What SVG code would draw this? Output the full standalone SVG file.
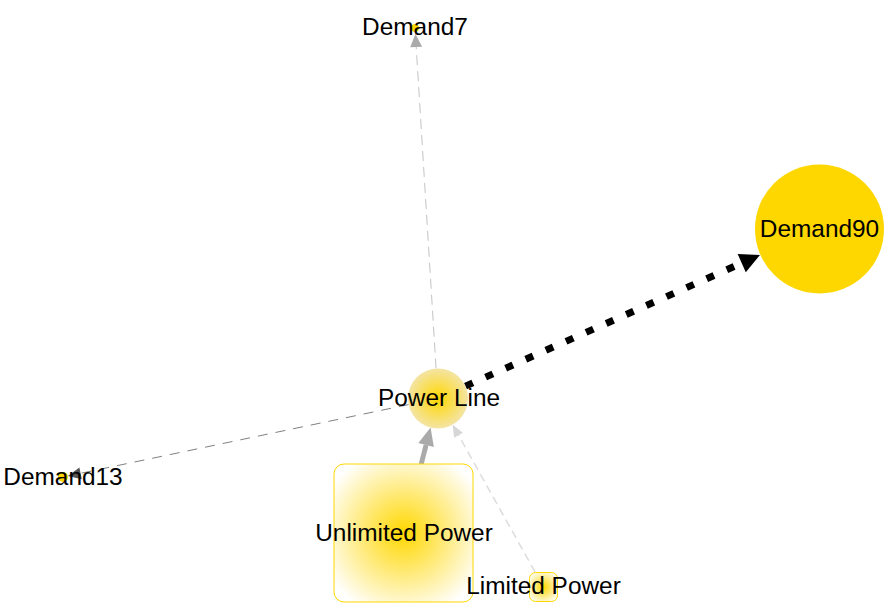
<svg xmlns="http://www.w3.org/2000/svg" width="895" height="615" viewBox="0 0 895 615">
<style>
  text { font-family: "Liberation Sans", Arial, sans-serif; font-size: 24.4px; fill: #000; text-anchor: middle; }
  .e { fill: none; stroke-linecap: butt; }
</style>
<defs>
  <radialGradient id="gPL" cx="0.5" cy="0.5" r="0.5">
    <stop offset="0" stop-color="#ffd700"/>
    <stop offset="1" stop-color="#f4e4a4"/>
  </radialGradient>
  <radialGradient id="gBox" cx="0.5" cy="0.5" r="0.62">
    <stop offset="0" stop-color="#ffd700"/>
    <stop offset="1" stop-color="#ffffff"/>
  </radialGradient>
  <marker id="mBlack" markerUnits="userSpaceOnUse" markerWidth="22" markerHeight="22" refX="0" refY="11" orient="auto" overflow="visible">
    <path d="M0,1 L20,11 L0,21 Z" fill="#000"/>
  </marker>
  <marker id="mGrayBig" markerUnits="userSpaceOnUse" markerWidth="20" markerHeight="18" refX="0" refY="9" orient="auto" overflow="visible">
    <path d="M0,1 L18,9 L0,17 Z" fill="#aaa"/>
  </marker>
  <marker id="mLight" markerUnits="userSpaceOnUse" markerWidth="14" markerHeight="12" refX="0" refY="6" orient="auto" overflow="visible">
    <path d="M0,1 L12,6 L0,11 Z" fill="#d6d6d6"/>
  </marker>
  <marker id="mMid" markerUnits="userSpaceOnUse" markerWidth="14" markerHeight="14" refX="0" refY="7" orient="auto" overflow="visible">
    <path d="M0,1 L13,7 L0,13 Z" fill="#aaa"/>
  </marker>
  <marker id="mDark" markerUnits="userSpaceOnUse" markerWidth="14" markerHeight="14" refX="0" refY="7" orient="auto" overflow="visible">
    <path d="M0,1 L13,7 L0,13 Z" fill="#555"/>
  </marker>
</defs>
<rect width="895" height="615" fill="#fff"/>
<g id="connectors">
  <line class="e" x1="465.5" y1="386.1" x2="741.7" y2="263.1" stroke="#000" stroke-width="7" stroke-dasharray="8 14" marker-end="url(#mBlack)"/>
  <line class="e" x1="421.2" y1="464" x2="426.1" y2="445.0" stroke="#aaa" stroke-width="5" marker-end="url(#mGrayBig)"/>
  <line class="e" x1="535.1" y1="572" x2="458.5" y2="435.2" stroke="#dcdcdc" stroke-width="1.5" stroke-dasharray="8 5" marker-end="url(#mLight)"/>
  <line class="e" x1="436.1" y1="368.6" x2="416.2" y2="47" stroke="#c4c4c4" stroke-width="1" stroke-dasharray="10 6" marker-end="url(#mMid)"/>
  <line class="e" x1="408.6" y1="404.6" x2="80.6" y2="473.3" stroke="#808080" stroke-width="1" stroke-dasharray="10 8" marker-end="url(#mDark)"/>
</g>
<g id="node-demand90">
  <circle cx="819.5" cy="229" r="64.5" fill="#ffd700"/>
  <text x="819.5" y="237">Demand90</text>
</g>
<g id="node-powerline">
  <circle cx="438" cy="398.5" r="30" fill="url(#gPL)"/>
  <text x="439" y="406">Power Line</text>
</g>
<g id="node-unlimited">
  <rect x="334" y="464" width="139" height="138" rx="10" fill="url(#gBox)" stroke="#ffd700" stroke-width="1"/>
  <text x="404" y="541">Unlimited Power</text>
</g>
<g id="node-limited">
  <rect x="529.5" y="572.5" width="28" height="29" rx="6" fill="url(#gBox)" stroke="#ffd700" stroke-width="1"/>
  <text x="543.5" y="594">Limited Power</text>
</g>
<g id="node-demand7">
  <circle cx="415" cy="28" r="4" fill="#ffd700"/>
  <text x="415" y="35">Demand7</text>
</g>
<g id="node-demand13">
  <circle cx="63" cy="477" r="5" fill="#ffd700"/>
  <text x="63" y="485">Demand13</text>
</g>
</svg>
